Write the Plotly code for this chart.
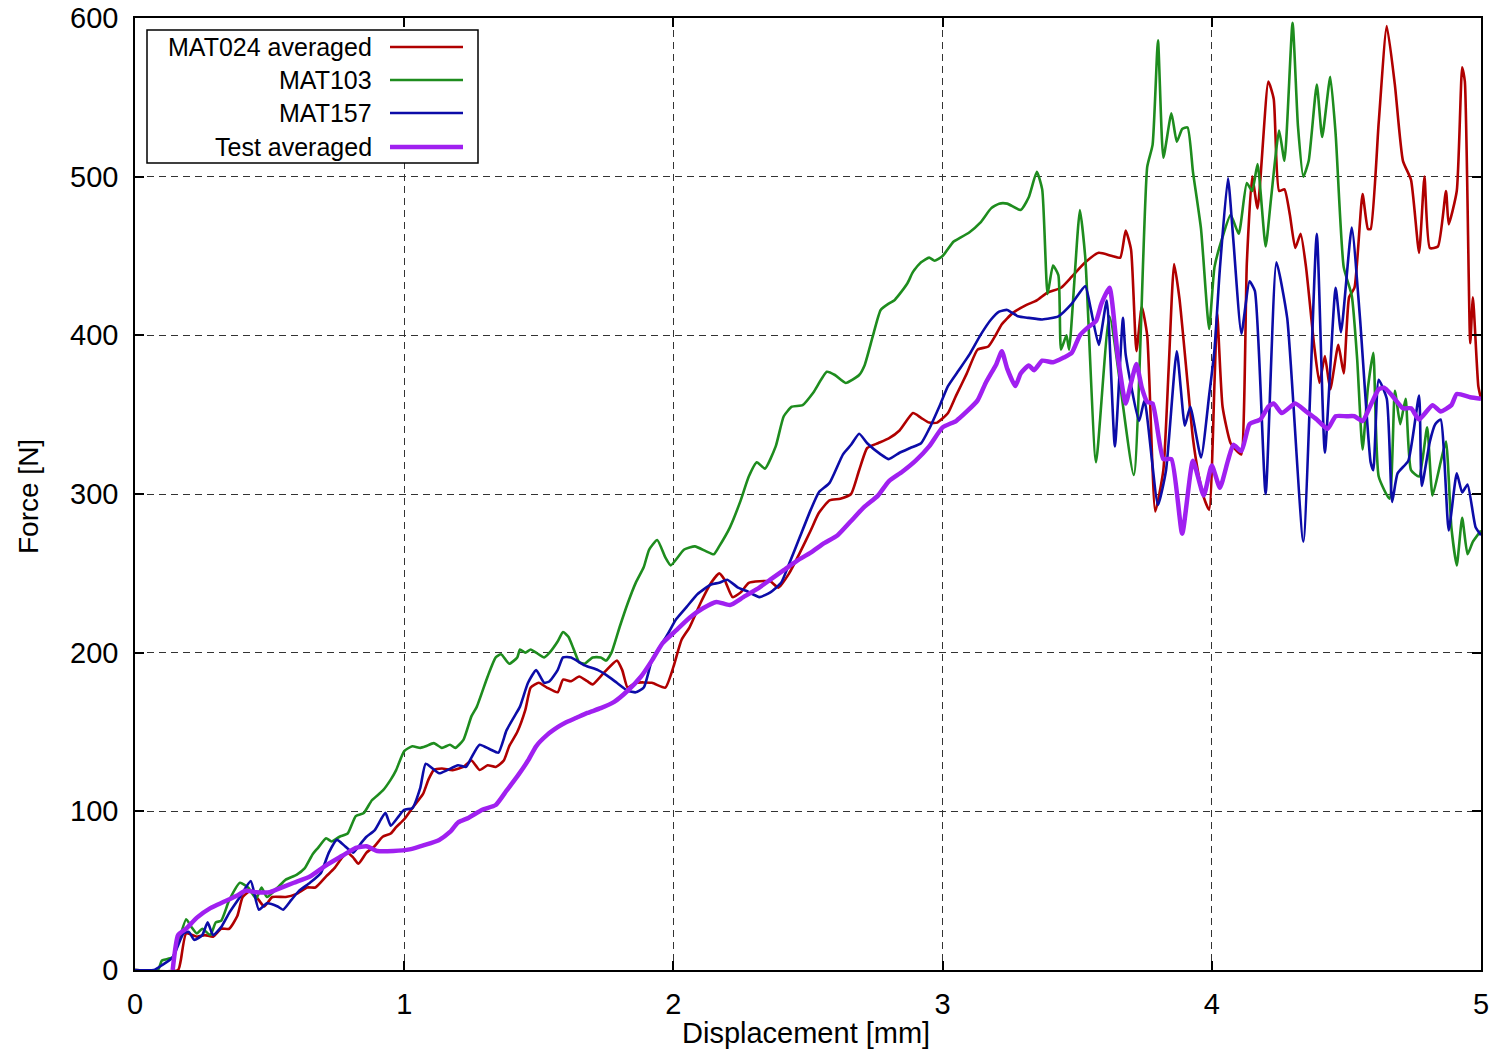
import plotly.graph_objects as go

# ---- simulation / test data: displacement [mm] vs force [N] ----
mat024_x = [0, 0.16, 0.17, 0.19, 0.23, 0.26, 0.29, 0.32, 0.35, 0.38, 0.40, 0.43, 0.46, 0.48, 0.51, 0.56,
            0.60, 0.64, 0.67, 0.71, 0.74, 0.77, 0.79, 0.81, 0.83, 0.86, 0.89, 0.92, 0.95, 0.97, 1.00, 1.03,
            1.07, 1.09, 1.11, 1.14, 1.18, 1.22, 1.25, 1.28, 1.31, 1.34, 1.37, 1.39, 1.42, 1.45, 1.47, 1.50,
            1.53, 1.57, 1.59, 1.62, 1.65, 1.68, 1.70, 1.74, 1.79, 1.81, 1.83, 1.86, 1.92, 1.97, 2.00, 2.03,
            2.06, 2.10, 2.14, 2.17, 2.19, 2.22, 2.25, 2.28, 2.32, 2.36, 2.39, 2.43, 2.47, 2.51, 2.54, 2.58,
            2.62, 2.66, 2.69, 2.72, 2.76, 2.80, 2.84, 2.89, 2.92, 2.95, 2.98, 3.02, 3.05, 3.09, 3.13, 3.17,
            3.20, 3.22, 3.26, 3.31, 3.35, 3.39, 3.44, 3.48, 3.53, 3.58, 3.63, 3.66, 3.68, 3.70, 3.72, 3.74,
            3.76, 3.79, 3.82, 3.84, 3.86, 3.88, 3.91, 3.93, 3.95, 3.97, 3.99, 4.01, 4.02, 4.04, 4.07, 4.10,
            4.11, 4.13, 4.15, 4.17, 4.21, 4.23, 4.25, 4.27, 4.29, 4.31, 4.33, 4.35, 4.38, 4.40, 4.42, 4.44,
            4.47, 4.49, 4.51, 4.53, 4.56, 4.58, 4.59, 4.62, 4.65, 4.68, 4.71, 4.74, 4.77, 4.79, 4.81, 4.84,
            4.87, 4.88, 4.91, 4.93, 4.94, 4.96, 4.97, 4.99, 5.00]
mat024_y = [0, 0, 6, 23, 21, 22, 21, 26, 26, 34, 46, 50, 44, 40, 46, 46,
            48, 52, 52, 59, 64, 71, 74, 71, 67, 74, 78, 84, 86, 90, 95, 102,
            111, 120, 126, 127, 126, 128, 132, 126, 129, 128, 132, 141, 150, 164, 178, 181,
            178, 175, 183, 182, 185, 182, 180, 187, 195, 189, 178, 181, 181, 178, 191, 208,
            216, 231, 244, 250, 246, 235, 238, 244, 245, 245, 241, 250, 263, 277, 288, 296,
            297, 300, 315, 329, 332, 335, 340, 351, 348, 345, 345, 351, 362, 376, 391, 393,
            401, 407, 414, 419, 422, 427, 430, 437, 446, 452, 450, 449, 466, 454, 390, 418,
            400, 289, 315, 380, 445, 423, 370, 335, 313, 298, 290, 370, 414, 355, 332, 326,
            325, 445, 500, 480, 560, 549, 491, 492, 476, 455, 464, 443, 394, 370, 387, 366,
            394, 376, 424, 430, 489, 467, 467, 534, 595, 558, 510, 498, 452, 500, 455, 456,
            491, 470, 491, 569, 560, 395, 424, 368, 360]

mat103_x = [0, 0.085, 0.10, 0.14, 0.19, 0.21, 0.23, 0.25, 0.28, 0.30, 0.32, 0.35, 0.39, 0.42, 0.45, 0.47,
            0.49, 0.53, 0.56, 0.60, 0.63, 0.66, 0.68, 0.71, 0.73, 0.76, 0.79, 0.82, 0.85, 0.88, 0.92, 0.95,
            0.97, 1.00, 1.03, 1.06, 1.08, 1.11, 1.14, 1.17, 1.19, 1.22, 1.25, 1.27, 1.31, 1.34, 1.36, 1.39,
            1.42, 1.43, 1.45, 1.47, 1.49, 1.52, 1.54, 1.57, 1.59, 1.61, 1.63, 1.65, 1.67, 1.70, 1.73, 1.75,
            1.77, 1.80, 1.83, 1.86, 1.89, 1.91, 1.94, 1.97, 1.99, 2.04, 2.08, 2.12, 2.15, 2.17, 2.21, 2.25,
            2.28, 2.31, 2.34, 2.38, 2.41, 2.44, 2.48, 2.52, 2.57, 2.60, 2.64, 2.69, 2.71, 2.74, 2.77, 2.80,
            2.82, 2.84, 2.87, 2.89, 2.92, 2.95, 2.97, 3.00, 3.04, 3.06, 3.10, 3.14, 3.18, 3.21, 3.24, 3.29,
            3.32, 3.35, 3.37, 3.39, 3.41, 3.43, 3.44, 3.46, 3.47, 3.51, 3.53, 3.57, 3.62, 3.71, 3.76, 3.78,
            3.80, 3.82, 3.85, 3.87, 3.89, 3.91, 3.93, 3.96, 3.99, 4.01, 4.04, 4.07, 4.10, 4.13, 4.15, 4.17,
            4.20, 4.22, 4.25, 4.27, 4.30, 4.32, 4.34, 4.36, 4.39, 4.41, 4.44, 4.46, 4.49, 4.52, 4.54, 4.56,
            4.58, 4.60, 4.62, 4.66, 4.68, 4.70, 4.72, 4.74, 4.77, 4.80, 4.82, 4.85, 4.87, 4.89, 4.91, 4.93,
            4.95, 4.97, 5.00]
mat103_y = [0, 0, 6, 8, 32, 27, 23, 26, 22, 30, 31, 44, 55, 52, 45, 52,
            46, 52, 57, 60, 64, 73, 77, 83, 81, 84, 86, 97, 99, 107, 113, 120,
            126, 138, 141, 140, 141, 143, 140, 142, 140, 145, 160, 166, 185, 197, 199, 193,
            197, 202, 200, 202, 200, 197, 200, 207, 213, 210, 202, 194, 193, 197, 197, 195,
            200, 216, 231, 244, 254, 265, 271, 260, 255, 265, 267, 264, 262, 267, 279, 296,
            311, 320, 316, 330, 349, 355, 356, 364, 377, 375, 370, 375, 381, 399, 416, 420,
            422, 426, 433, 440, 446, 449, 447, 450, 459, 461, 465, 471, 480, 483, 483, 479,
            487, 503, 492, 426, 444, 438, 391, 400, 391, 479, 449, 320, 412, 312, 506, 520,
            586, 512, 540, 522, 530, 531, 503, 467, 404, 443, 462, 476, 464, 496, 491, 508,
            456, 486, 529, 510, 597, 532, 500, 510, 558, 525, 563, 527, 443, 425, 385, 328,
            367, 389, 311, 297, 365, 344, 360, 315, 311, 342, 299, 320, 333, 279, 255, 285,
            262, 270, 277]

mat157_x = [0, 0.07, 0.10, 0.14, 0.18, 0.20, 0.22, 0.25, 0.27, 0.29, 0.32, 0.35, 0.39, 0.43, 0.46, 0.49,
            0.53, 0.55, 0.58, 0.61, 0.65, 0.69, 0.72, 0.75, 0.78, 0.81, 0.84, 0.86, 0.89, 0.93, 0.95, 0.98,
            1.00, 1.03, 1.06, 1.08, 1.13, 1.16, 1.20, 1.23, 1.25, 1.28, 1.32, 1.35, 1.38, 1.41, 1.43, 1.46,
            1.49, 1.52, 1.54, 1.57, 1.59, 1.62, 1.67, 1.72, 1.75, 1.79, 1.83, 1.86, 1.89, 1.92, 1.98, 2.01,
            2.05, 2.09, 2.14, 2.17, 2.20, 2.24, 2.27, 2.32, 2.36, 2.40, 2.43, 2.47, 2.51, 2.54, 2.58, 2.63,
            2.66, 2.69, 2.72, 2.77, 2.80, 2.84, 2.88, 2.92, 2.95, 2.99, 3.02, 3.06, 3.10, 3.14, 3.18, 3.21,
            3.24, 3.28, 3.32, 3.37, 3.43, 3.48, 3.53, 3.55, 3.58, 3.61, 3.64, 3.67, 3.68, 3.73, 3.75, 3.80,
            3.83, 3.87, 3.90, 3.92, 3.96, 3.99, 4.01, 4.03, 4.06, 4.08, 4.11, 4.14, 4.16, 4.20, 4.24, 4.28,
            4.34, 4.39, 4.42, 4.46, 4.48, 4.52, 4.55, 4.59, 4.60, 4.62, 4.65, 4.67, 4.69, 4.73, 4.77, 4.78,
            4.81, 4.83, 4.85, 4.88, 4.91, 4.93, 4.95, 4.98, 5.00]
mat157_y = [0, 0, 3, 8, 23, 24, 19, 22, 30, 22, 27, 36, 46, 56, 38, 42,
            40, 38, 44, 50, 55, 61, 74, 82, 78, 74, 80, 84, 88, 99, 91, 97,
            101, 102, 115, 130, 124, 126, 129, 128, 134, 142, 139, 137, 151, 160, 166, 181,
            189, 181, 182, 189, 197, 197, 192, 189, 186, 181, 176, 175, 178, 195, 212, 221,
            229, 237, 243, 244, 246, 241, 239, 235, 238, 244, 256, 273, 290, 301, 307, 325,
            331, 338, 332, 325, 322, 326, 329, 332, 341, 356, 368, 378, 388, 400, 410, 415,
            416, 412, 411, 410, 412, 420, 431, 417, 394, 422, 330, 411, 388, 346, 359, 293,
            315, 390, 343, 355, 323, 362, 391, 442, 499, 460, 401, 434, 428, 300, 446, 411,
            270, 464, 326, 430, 402, 468, 412, 320, 315, 372, 360, 295, 313, 321, 362, 305,
            333, 344, 347, 277, 313, 301, 306, 279, 274]

test_x = [0.14, 0.16, 0.19, 0.23, 0.28, 0.33, 0.38, 0.41, 0.45, 0.50, 0.53, 0.59, 0.65, 0.71, 0.77, 0.82,
          0.86, 0.90, 0.96, 1.02, 1.08, 1.13, 1.17, 1.20, 1.24, 1.29, 1.34, 1.38, 1.42, 1.46, 1.49, 1.53,
          1.57, 1.60, 1.64, 1.68, 1.73, 1.78, 1.83, 1.88, 1.92, 1.96, 2.01, 2.06, 2.11, 2.16, 2.21, 2.26,
          2.31, 2.36, 2.41, 2.46, 2.51, 2.56, 2.61, 2.66, 2.71, 2.76, 2.80, 2.85, 2.90, 2.95, 3.00, 3.05,
          3.09, 3.13, 3.16, 3.20, 3.22, 3.24, 3.27, 3.29, 3.32, 3.34, 3.37, 3.41, 3.45, 3.48, 3.51, 3.54,
          3.57, 3.59, 3.62, 3.65, 3.68, 3.70, 3.72, 3.74, 3.76, 3.78, 3.82, 3.85, 3.89, 3.93, 3.97, 4.00,
          4.03, 4.06, 4.08, 4.11, 4.14, 4.18, 4.21, 4.23, 4.26, 4.31, 4.35, 4.39, 4.43, 4.46, 4.50, 4.53,
          4.56, 4.59, 4.62, 4.64, 4.67, 4.71, 4.74, 4.77, 4.82, 4.85, 4.89, 4.91, 4.96, 5.00]
test_y = [0, 22, 26, 33, 39, 43, 47, 50, 49, 49, 51, 55, 59, 66, 72, 77,
          78, 75, 75, 76, 79, 82, 87, 93, 96, 101, 104, 113, 122, 132, 141, 148,
          153, 156, 159, 162, 165, 169, 176, 185, 195, 206, 214, 222, 228, 232, 230, 235,
          240, 246, 252, 258, 263, 269, 274, 283, 292, 299, 308, 314, 321, 330, 342, 346,
          352, 359, 370, 382, 390, 379, 368, 376, 381, 378, 384, 383, 386, 389, 400, 405,
          409, 420, 430, 388, 357, 370, 382, 367, 358, 357, 322, 322, 275, 321, 299, 318,
          304, 321, 331, 327, 344, 347, 355, 357, 351, 357, 352, 347, 341, 349, 349, 349,
          346, 356, 366, 367, 362, 354, 354, 347, 356, 352, 356, 363, 361, 360]

series_names = ["MAT024 averaged", "MAT103", "MAT157", "Test averaged"]
series_colors = ["#b00000", "#1e8c1e", "#0c0ca8", "#a020f0"]
series_widths = [2.6, 2.6, 2.6, 4.5]

x_ticks = [0, 1, 2, 3, 4, 5]
y_ticks = [0, 100, 200, 300, 400, 500, 600]

FONT = "Liberation Sans, Arial, Helvetica, sans-serif"

fig = go.Figure()
for name, xs, ys, col, w in zip(series_names,
                                [mat024_x, mat103_x, mat157_x, test_x],
                                [mat024_y, mat103_y, mat157_y, test_y],
                                series_colors, series_widths):
    fig.add_trace(go.Scatter(x=xs, y=ys, mode="lines", name=name,
                             line=dict(color=col, width=w, shape="spline", smoothing=0.5),
                             showlegend=False))

axis_common = dict(
    showline=True, linecolor="black", linewidth=1.5, mirror="allticks",
    ticks="inside", ticklen=9, tickwidth=1.5, tickcolor="black",
    showgrid=True, gridcolor="#333333", gridwidth=1, griddash="7px,5px",
    zeroline=False, tickfont=dict(family=FONT, size=29, color="black"),
)
fig.update_xaxes(range=[0, 5], tickvals=x_ticks, ticklabelstandoff=7, **axis_common)
fig.update_yaxes(range=[0, 600], tickvals=y_ticks, ticklabelstandoff=9, **axis_common)

# plot area in pixels: x 135..1481, y 18..970
W, H = 1497, 1051
L, R, T, B = 135, 16, 18, 81
pw, ph = W - L - R, H - T - B


def px(xp):
    return (xp - L) / pw


def py(yp):
    return (H - B - yp) / ph


annotations = [
    dict(text="Displacement [mm]", x=px(806), y=py(1033), xref="paper", yref="paper",
         showarrow=False, font=dict(family=FONT, size=29, color="black"),
         xanchor="center", yanchor="middle"),
    dict(text="Force [N]", x=px(28), y=py(497), xref="paper", yref="paper",
         showarrow=False, textangle=-90, font=dict(family=FONT, size=28, color="black"),
         xanchor="center", yanchor="middle"),
]

# key box in the top-left corner: right-aligned labels with line samples on the right
shapes = [dict(type="rect", xref="paper", yref="paper",
               x0=px(147), x1=px(478), y0=py(163), y1=py(30),
               line=dict(color="black", width=1.5), fillcolor="white", layer="above")]
key_rows = [47, 80, 113, 147]
for name, col, w, row in zip(series_names, series_colors, series_widths, key_rows):
    annotations.append(dict(text=name, x=px(374), y=py(row), xref="paper", yref="paper",
                            showarrow=False, xanchor="right", yanchor="middle",
                            font=dict(family=FONT, size=25, color="black")))
    shapes.append(dict(type="line", xref="paper", yref="paper",
                       x0=px(390), x1=px(463), y0=py(row), y1=py(row),
                       line=dict(color=col, width=w), layer="above"))

fig.update_layout(
    width=W, height=H,
    margin=dict(l=L, r=R, t=T, b=B, autoexpand=False),
    paper_bgcolor="white", plot_bgcolor="white",
    showlegend=False,
    annotations=annotations, shapes=shapes,
    font=dict(family=FONT, color="black"),
)

fig.write_html("out.html")
